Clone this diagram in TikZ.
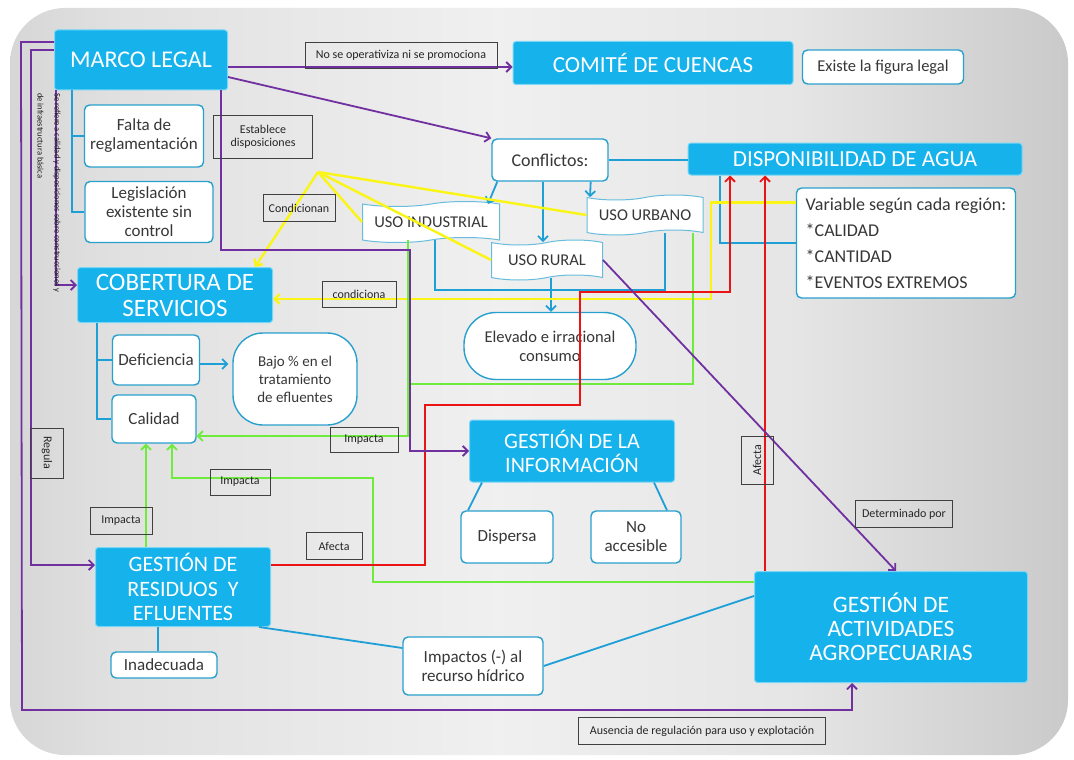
\documentclass[tikz,border=0pt]{standalone}
\usepackage{fontspec}
\setmainfont{Carlito}
\usetikzlibrary{shapes.symbols,arrows.meta}
\definecolor{boxblue}{RGB}{22,178,235}
\definecolor{boxedge}{RGB}{120,215,245}
\definecolor{wedge}{RGB}{40,160,205}
\definecolor{txtgray}{RGB}{55,55,55}
\definecolor{pcol}{RGB}{112,48,160}
\definecolor{ycol}{RGB}{250,245,20}
\definecolor{gcol}{RGB}{110,235,60}
\definecolor{rcol}{RGB}{235,20,20}
\definecolor{bcol}{RGB}{30,160,215}
\pgfdeclarehorizontalshading{bgshade}{100bp}{rgb(0bp)=(0.58,0.58,0.58); rgb(12bp)=(0.74,0.74,0.74); rgb(30bp)=(0.88,0.88,0.88); rgb(48bp)=(0.94,0.94,0.94); rgb(62bp)=(0.9,0.9,0.9); rgb(80bp)=(0.75,0.75,0.75); rgb(100bp)=(0.52,0.52,0.52)}

\begin{document}
\begin{tikzpicture}[x=1pt,y=-1pt,
  >={Straight Barb[length=5pt,width=10pt]},
  bluebox/.style={draw=boxedge,line width=1pt,fill=boxblue,text=white,rounded corners=3pt,align=center,font=\fontsize{23}{25}\selectfont,inner sep=2pt},
  whitebox/.style={draw=wedge,line width=1.4pt,fill=white,text=txtgray,rounded corners=5pt,align=center,font=\fontsize{17}{19}\selectfont,inner sep=2pt},
  usobox/.style={shape=tape,draw=wedge!70,line width=1pt,fill=white,text=txtgray,font=\fontsize{16.5}{18}\selectfont,inner sep=2pt},
  lbl/.style={draw=black!75,line width=0.7pt,text=black!85,font=\fontsize{12}{13}\selectfont,inner sep=2pt,align=center},
  pline/.style={draw=pcol,line width=1.8pt},
  yline/.style={draw=ycol,line width=2.4pt},
  gline/.style={draw=gcol,line width=1.8pt},
  rline/.style={draw=rcol,line width=1.8pt},
  bline/.style={draw=bcol,line width=1.8pt}]
% fondo
\useasboundingbox (0,0) rectangle (1074,760);
\fill[white] (0,0) rectangle (1074,760);
\shade[shading=bgshade,rounded corners=55pt] (10,8) rectangle (1068,755);

% nodos
\node[bluebox,minimum width=173pt,minimum height=60pt,font=\fontsize{24}{26}\selectfont](ml) at (141,60) {MARCO LEGAL};
\node[whitebox,minimum width=119pt,minimum height=62pt](falta) at (144,136) {Falta de\\reglamentación};
\node[whitebox,minimum width=128pt,minimum height=61pt](legis) at (149,212) {Legislación\\existente sin\\control};
\node[bluebox,minimum width=195pt,minimum height=55pt,font=\fontsize{25}{26}\selectfont](cob) at (175,295) {COBERTURA DE\\SERVICIOS};
\node[whitebox,minimum width=87pt,minimum height=50pt](defi) at (156,360) {Deficiencia};
\node[whitebox,minimum width=84pt,minimum height=48pt](cal) at (154,419) {Calidad};
\node[whitebox,rounded corners=30pt,minimum width=124pt,minimum height=92pt,font=\fontsize{15}{18}\selectfont](bajo) at (295,379) {Bajo \% en el\\tratamiento\\de efluentes};
\node[bluebox,minimum width=280pt,minimum height=43pt](comite) at (653,63) {COMITÉ DE CUENCAS};
\node[whitebox,minimum width=161pt,minimum height=34pt,font=\fontsize{16.5}{18}\selectfont](existe) at (883,67) {Existe la figura legal};
\node[whitebox,minimum width=116pt,minimum height=42pt,font=\fontsize{18}{20}\selectfont](confl) at (550,160) {Conflictos:};
\node[bluebox,minimum width=334pt,minimum height=32pt](dispo) at (855,159) {DISPONIBILIDAD DE AGUA};
\node[whitebox,minimum width=219pt,minimum height=110pt,align=left,font=\fontsize{18}{26}\selectfont](vari) at (906,243) {Variable según cada región:\\*CALIDAD\\*CANTIDAD\\*EVENTOS EXTREMOS};
\node[usobox,minimum width=137pt,minimum height=41pt](uind) at (431,222) {USO INDUSTRIAL};
\node[usobox,minimum width=116pt,minimum height=40pt](uurb) at (645,215) {USO URBANO};
\node[usobox,minimum width=111pt,minimum height=40pt](urur) at (547,260) {USO RURAL};
\node[whitebox,rounded corners=32pt,minimum width=172pt,minimum height=67pt,font=\fontsize{16.5}{19}\selectfont](elev) at (550,346) {Elevado e irracional\\consumo};
\node[bluebox,minimum width=205pt,minimum height=62pt,font=\fontsize{22}{24}\selectfont](ginfo) at (572,451) {GESTIÓN DE LA\\INFORMACIÓN};
\node[whitebox,minimum width=92pt,minimum height=52pt](disp) at (507,537) {Dispersa};
\node[whitebox,minimum width=90pt,minimum height=52pt](noacc) at (636,537) {No\\accesible};
\node[bluebox,minimum width=175pt,minimum height=79pt,font=\fontsize{22}{24.5}\selectfont](gres) at (183,587) {GESTIÓN DE\\RESIDUOS~~Y\\EFLUENTES};
\node[whitebox,minimum width=106pt,minimum height=26pt](inad) at (164,665) {Inadecuada};
\node[whitebox,minimum width=140pt,minimum height=58pt](impac) at (473,666) {Impactos (-) al\\recurso hídrico};
\node[bluebox,minimum width=273pt,minimum height=111pt,font=\fontsize{23.5}{24}\selectfont](gagro) at (891,627) {GESTIÓN DE\\ACTIVIDADES\\AGROPECUARIAS};

% conectores azules
\draw[bline] (confl.east) -- (confl.east -| dispo.west);
\draw[bline,->] ([xshift=6pt]confl.south west) -- ([xshift=-12pt]uind.north east);
\draw[bline,->] ([xshift=-7pt]confl.south) -- ([xshift=-7pt]confl.south |- urur.north);
\draw[bline,->] ([xshift=-18pt]confl.south east) -- ([xshift=-55pt]uurb.north);
\draw[bline] ([xshift=4pt]uind.south) -- ++(0,50) -| ([xshift=20pt]uurb.south);
\draw[bline,->] ([xshift=4pt]urur.south) -- ([xshift=4pt]urur.south |- elev.north);
\draw[bline] ([xshift=-135pt]dispo.south) |- (vari.west);
\draw[bline] ([xshift=18pt]ml.south west) |- (legis.west);
\draw[bline] ([xshift=18pt]ml.south west |- falta.west) -- (falta.west);
\draw[bline] ([xshift=20pt]cob.south west) |- (cal.west);
\draw[bline] ([xshift=20pt]cob.south west |- defi.west) -- (defi.west);
\draw[bline,->] ([yshift=-4pt]defi.east) -- ([yshift=-4pt,xshift=-4pt]defi.east -| bajo.west);
\draw[bline] ([xshift=-90pt]ginfo.south) -- ([xshift=-39pt]disp.north);
\draw[bline] ([xshift=82pt]ginfo.south) -- ([xshift=31pt]noacc.north);
\draw[bline] ([xshift=-6pt]inad.north |- gres.south) -- ([xshift=-6pt]inad.north);
\draw[bline] ([xshift=-12pt]gres.south east) -- ([yshift=18pt]impac.west);
\draw[bline] (impac.east) -- ([yshift=31pt]gagro.west);

% conectores amarillos
\coordinate (hub) at (318,172);
\draw[yline] (hub) -- (uind.west);
\draw[yline] (hub) -- (urur.west);
\draw[yline] (hub) -- (uurb.west);
\draw[yline,->] (hub) -- ([xshift=80pt]cob.north);
\draw[yline,->] ([yshift=-15pt]vari.north west) -- ++(-85,0) |- ([yshift=-4pt]cob.east);

% conectores verdes
\draw[gline,->] ([xshift=-23pt]uind.south) |- ([yshift=-17pt]cal.east);
\draw[gline] ([xshift=48pt]uurb.south) |- (408,384);
\draw[gline,->] ([yshift=45pt]gagro.west) -| (373,478) -| ([xshift=18pt]cal.south);
\draw[gline,->] ([xshift=-37pt]gres.north) -- ([xshift=-8pt]cal.south);

% conectores rojos
\draw[rline,->] ([yshift=22pt]gres.east) -| (425,405) -| (580,292) -| ([xshift=-125pt]dispo.south);
\draw[rline,->] ([xshift=-126pt]gagro.north) -- ([xshift=-90pt]dispo.south);

% conectores violetas
\draw[pline,->] ([yshift=-7pt]ml.east) -- ([yshift=-7pt]ml.east -| comite.west);
\draw[pline,->] ([yshift=-17pt]ml.east) -- (confl.north west);
\draw[pline,->] ([xshift=-7pt]ml.south east) |- (410,250) |- (ginfo.west);
\draw[pline,->] ([yshift=18pt]ml.west) -- ++(-33,0) -- (22,710) -| ([xshift=-39pt]gagro.south);
\draw[pline,->] ([yshift=10pt]ml.west) -- ++(-23,0) |- ([yshift=22pt]gres.west);
\draw[pline,->] ([xshift=2pt]ml.south west) |- ([yshift=10pt]cob.west);
\draw[pline,->] (urur.east) -- ([xshift=5pt]gagro.north);

% etiquetas
\node[lbl,minimum width=192pt,minimum height=26pt](l1) at (401,55) {No se operativiza ni se promociona};
\node[lbl,minimum width=99pt,minimum height=43pt](l2) at (263,137) {Establece\\disposiciones};
\node[lbl,minimum width=72pt,minimum height=27pt](l3) at (299,208) {Condicionan};
\node[lbl,minimum width=74pt,minimum height=26pt](l4) at (359,294) {condiciona};
\node[lbl,minimum width=68pt,minimum height=25pt](l5) at (364,440) {Impacta};
\node[lbl,minimum width=60pt,minimum height=26pt](l6) at (240,482) {Impacta};
\node[lbl,minimum width=62pt,minimum height=27pt](l7) at (121,521) {Impacta};
\node[lbl,minimum width=56pt,minimum height=27pt](l8) at (334,546) {Afecta};
\node[lbl,rotate=90,minimum width=48pt,minimum height=32pt](l9) at (757,460) {Afecta};
\node[lbl,minimum width=97pt,minimum height=27pt](l10) at (904,514) {Determinado por};
\node[lbl,minimum width=247pt,minimum height=27pt](l11) at (702,731) {Ausencia de regulación para uso y explotación};
\node[lbl,rotate=-90,minimum width=50pt,minimum height=33pt](l12) at (47,453) {Regula};
\node[rotate=-90,anchor=west,align=left,inner sep=0pt,text=black!90,font=\fontsize{8.5}{17}\selectfont](nota) at (49,93) {Se refiere a calidad y disposiciones sobre construcciones y\\de infraestructura básica};
\end{tikzpicture}
\end{document}
